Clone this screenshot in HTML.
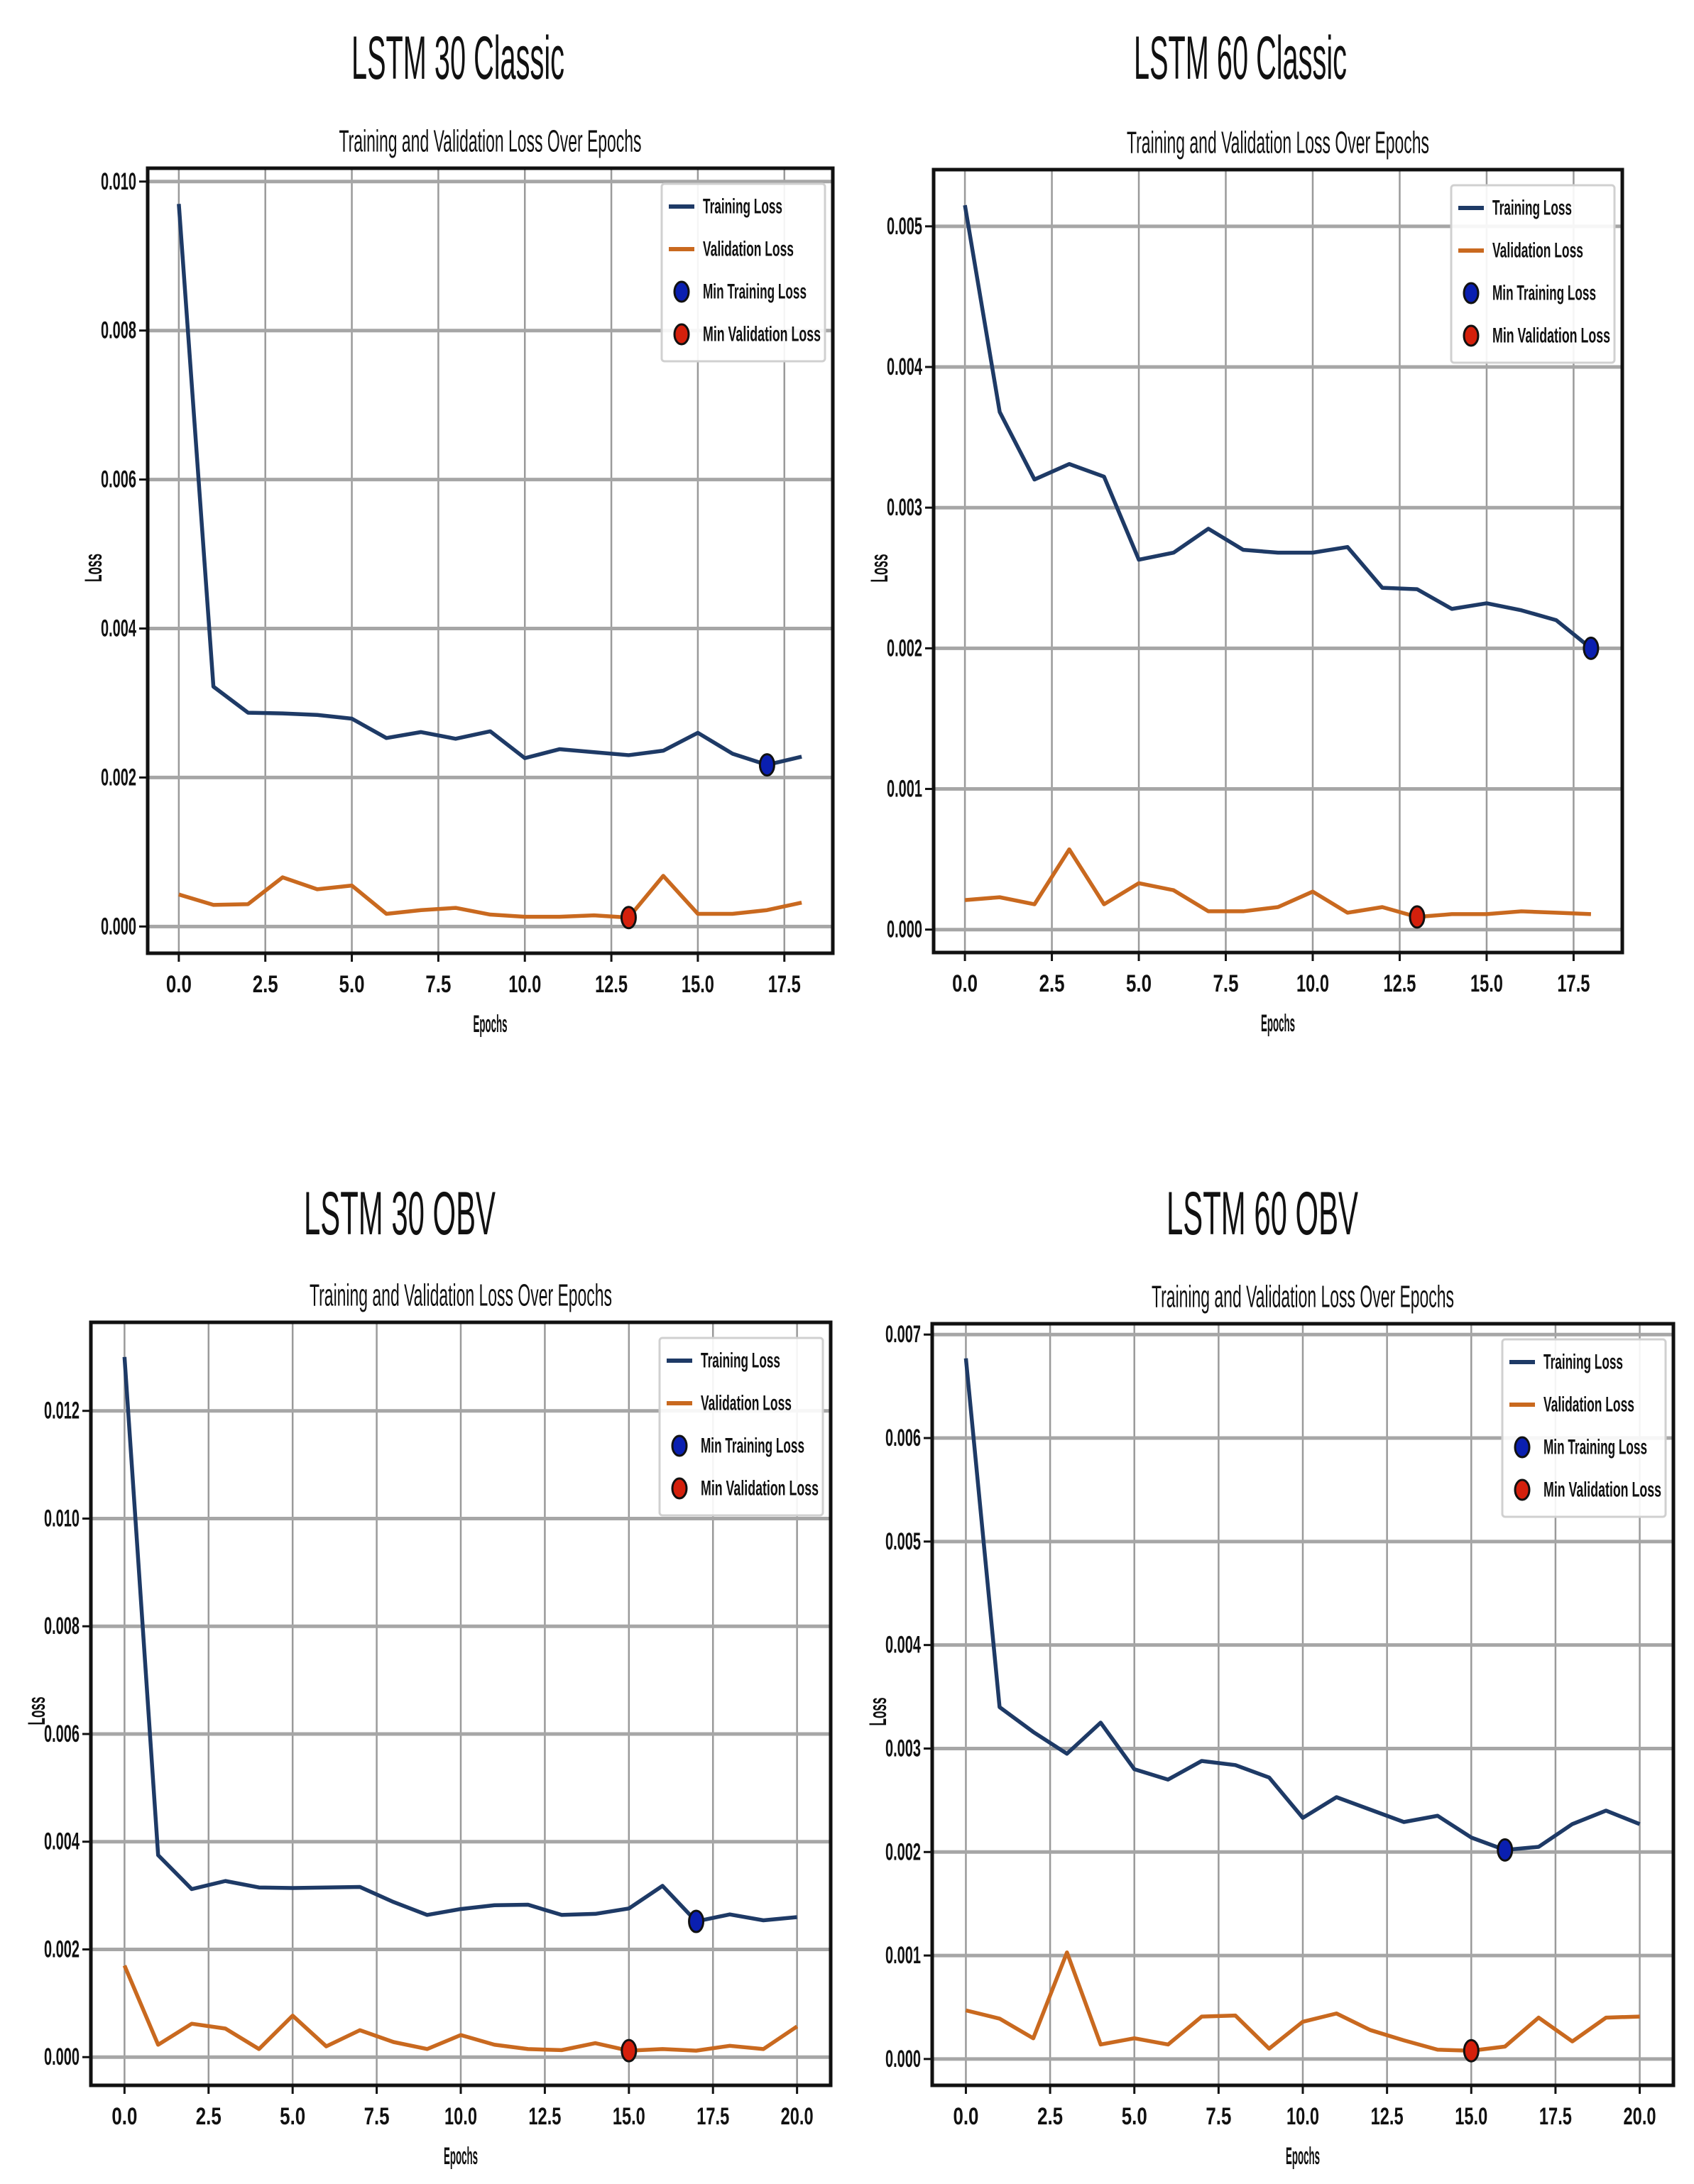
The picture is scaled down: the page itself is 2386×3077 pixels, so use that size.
<!DOCTYPE html>
<html><head><meta charset="utf-8">
<style>
html,body{margin:0;padding:0;background:#fff;}
svg{display:block;}
text{font-family:"Liberation Sans Narrow","Liberation Sans",sans-serif;fill:#111;}
</style></head>
<body>
<svg id="root" width="2386" height="3077" viewBox="0 0 2386 3077" xmlns="http://www.w3.org/2000/svg"></svg>
<script>
// ---- Chart data ----
const epochs30c = [0,1,2,3,4,5,6,7,8,9,10,11,12,13,14,15,16,17,18];
const train30c = [0.0097,0.00322,0.00287,0.00286,0.00284,0.00279,0.00253,0.00261,0.00252,0.00262,0.00226,0.00238,0.00234,0.00230,0.00236,0.00260,0.00232,0.00217,0.00228];
const val30c = [0.00043,0.00029,0.00030,0.00066,0.00050,0.00055,0.00017,0.00022,0.00025,0.00016,0.00013,0.00013,0.00015,0.00012,0.00068,0.00017,0.00017,0.00022,0.00032];
const yTicks30c = [0,0.002,0.004,0.006,0.008,0.010];

const epochs60c = [0,1,2,3,4,5,6,7,8,9,10,11,12,13,14,15,16,17,18];
const train60c = [0.00515,0.00368,0.00320,0.00331,0.00322,0.00263,0.00268,0.00285,0.00270,0.00268,0.00268,0.00272,0.00243,0.00242,0.00228,0.00232,0.00227,0.00220,0.00200];
const val60c = [0.00021,0.00023,0.00018,0.00057,0.00018,0.00033,0.00028,0.00013,0.00013,0.00016,0.00027,0.00012,0.00016,0.00009,0.00011,0.00011,0.00013,0.00012,0.00011];
const yTicks60c = [0,0.001,0.002,0.003,0.004,0.005];

const epochs30o = [0,1,2,3,4,5,6,7,8,9,10,11,12,13,14,15,16,17,18,19,20];
const train30o = [0.0130,0.00375,0.00312,0.00327,0.00315,0.00314,0.00315,0.00316,0.00288,0.00264,0.00275,0.00282,0.00283,0.00264,0.00266,0.00276,0.00318,0.00252,0.00265,0.00254,0.00260];
const val30o = [0.00170,0.00023,0.00062,0.00053,0.00015,0.00077,0.00020,0.00050,0.00028,0.00015,0.00041,0.00023,0.00015,0.00013,0.00026,0.00012,0.00015,0.00012,0.00021,0.00015,0.00057];
const yTicks30o = [0,0.002,0.004,0.006,0.008,0.010,0.012];

const epochs60o = [0,1,2,3,4,5,6,7,8,9,10,11,12,13,14,15,16,17,18,19,20];
const train60o = [0.00677,0.00340,0.00316,0.00295,0.00325,0.00280,0.00270,0.00288,0.00284,0.00272,0.00233,0.00253,0.00241,0.00229,0.00235,0.00214,0.00202,0.00205,0.00227,0.00240,0.00227];
const val60o = [0.00047,0.00039,0.00020,0.00103,0.00014,0.00020,0.00014,0.00041,0.00042,0.00010,0.00036,0.00044,0.00028,0.00018,0.00009,0.00008,0.00012,0.00040,0.00017,0.00040,0.00041];
const yTicks60o = [0,0.001,0.002,0.003,0.004,0.005,0.006,0.007];

const xTicks18 = ["0.0","2.5","5.0","7.5","10.0","12.5","15.0","17.5"];
const xTicks20 = ["0.0","2.5","5.0","7.5","10.0","12.5","15.0","17.5","20.0"];

const NS = "http://www.w3.org/2000/svg";
const root = document.getElementById('root');
function mk(tag, attrs, parent){
  const e = document.createElementNS(NS, tag);
  for (const k in attrs) e.setAttribute(k, attrs[k]);
  (parent||root).appendChild(e);
  return e;
}
function txt(parent, s, x, y, size, anchor, len, extra){
  const t = mk('text', Object.assign({x:x, y:y, 'font-size':size, 'text-anchor':anchor||'middle', 'dominant-baseline':'central'}, extra||{}), parent);
  if (len){ t.setAttribute('textLength', len); t.setAttribute('lengthAdjust','spacingAndGlyphs'); }
  t.textContent = s;
  return t;
}

function drawChart(key, title, box, epochs, train, val, yTicks, xTickLabels, titleLen, titleX, titleY){
  const g = mk('g', {});
  
  
  const [L,T,R,B] = box;
  const xmin0 = Math.min(...epochs), xmax0 = Math.max(...epochs);
  const xm = (xmax0-xmin0)*0.05;
  const all = train.concat(val);
  const ymin0 = Math.min(...all), ymax0 = Math.max(...all);
  const ym = (ymax0-ymin0)*0.05;
  const xlo = xmin0-xm, xhi = xmax0+xm, ylo = ymin0-ym, yhi = ymax0+ym;
  const X = v => L + (v-xlo)/(xhi-xlo)*(R-L);
  const Y = v => B - (v-ylo)/(yhi-ylo)*(B-T);
  const cx = (L+R)/2;

  const t1 = txt(g, title, titleX, titleY, 86, 'middle', titleLen);
  
  
  const t2 = txt(g, 'Training and Validation Loss Over Epochs', cx, T-38, 44, 'middle', 426);
  
  

  xTickLabels.forEach(lab => {
    const v = parseFloat(lab);
    const x = X(v);
    const gl = mk('line', {x1:x, x2:x, y1:T, y2:B, stroke:'#9a9a9a', 'stroke-width':2.5}, g);
    
    
    mk('line', {x1:x, x2:x, y1:B, y2:B+12, stroke:'#111', 'stroke-width':3}, g);
    const tl = txt(g, lab, x, B+44, 34, 'middle', lab.length>3 ? 46 : 36, {'font-weight':'bold'});
    
    
  });
  yTicks.forEach(v => {
    const y = Y(v);
    const gl = mk('line', {x1:L, x2:R, y1:y, y2:y, stroke:'#a6a6a6', 'stroke-width':5}, g);
    
    
    mk('line', {x1:L-12, x2:L, y1:y, y2:y, stroke:'#111', 'stroke-width':3}, g);
    const tl = txt(g, v.toFixed(3), L-16, y, 34, 'end', 50, {'font-weight':'bold'});
    
    
  });

  const xl = txt(g, 'Epochs', cx, B+100, 34, 'middle', 48, {'font-weight':'bold'});
  
  
  const yl = txt(g, 'Loss', 0, 0, 34, 'middle', 40, {'font-weight':'bold', transform:`translate(${L-76},${(T+B)/2+10}) rotate(-90)`});
  
  

  const tp = mk('polyline', {points: epochs.map((e,i)=>X(e)+','+Y(train[i])).join(' '), fill:'none', stroke:'#1e3a66', 'stroke-width':5.5, 'stroke-linejoin':'round'}, g);
  
  
  const vp = mk('polyline', {points: epochs.map((e,i)=>X(e)+','+Y(val[i])).join(' '), fill:'none', stroke:'#c9691f', 'stroke-width':5.5, 'stroke-linejoin':'round'}, g);
  
  

  let ti = 0; train.forEach((v,i)=>{ if (v < train[ti]) ti = i; });
  let vi = 0; val.forEach((v,i)=>{ if (v < val[vi]) vi = i; });
  const m1 = mk('ellipse', {cx:X(epochs[ti]), cy:Y(train[ti]), rx:10, ry:15, fill:'#0a1fb0', stroke:'#111', 'stroke-width':3}, g);
  
  
  const m2 = mk('ellipse', {cx:X(epochs[vi]), cy:Y(val[vi]), rx:10, ry:15, fill:'#d4200c', stroke:'#111', 'stroke-width':3}, g);
  
  

  const bd = mk('rect', {x:L, y:T, width:R-L, height:B-T, fill:'none', stroke:'#111', 'stroke-width':5}, g);
  
  

  const lw = 230, lh = 250, lx = R-11-lw, ly = T+22;
  const lg = mk('g', {}, g);
  
  
  mk('rect', {x:lx, y:ly, width:lw, height:lh, fill:'#fff', 'fill-opacity':0.9, stroke:'#d0d0d0', 'stroke-width':3, rx:4}, lg);
  const entries = [['Training Loss','line','#1e3a66',112],['Validation Loss','line','#c9691f',128],['Min Training Loss','dot','#0a1fb0',146],['Min Validation Loss','dot','#d4200c',166]];
  entries.forEach((en,k)=>{
    const yy = ly + 32 + k*60;
    const eg = mk('g', {}, lg);
    
    
    if (en[1]==='line') mk('line', {x1:lx+10, x2:lx+46, y1:yy, y2:yy, stroke:en[2], 'stroke-width':6}, eg);
    else mk('ellipse', {cx:lx+28, cy:yy, rx:10, ry:14, fill:en[2], stroke:'#111', 'stroke-width':3}, eg);
    txt(eg, en[0], lx+58, yy, 30, 'start', en[3], {'font-weight':'bold'});
  });
}

drawChart('lstm-30-classic', 'LSTM 30 Classic', [208,237,1173,1343], epochs30c, train30c, val30c, yTicks30c, xTicks18, 300, 645, 82);
drawChart('lstm-60-classic', 'LSTM 60 Classic', [1315,239,2285,1342], epochs60c, train60c, val60c, yTicks60c, xTicks18, 300, 1747, 82);
drawChart('lstm-30-obv', 'LSTM 30 OBV', [128,1863,1170,2938], epochs30o, train30o, val30o, yTicks30o, xTicks20, 270, 563, 1710);
drawChart('lstm-60-obv', 'LSTM 60 OBV', [1313,1865,2357,2938], epochs60o, train60o, val60o, yTicks60o, xTicks20, 270, 1778, 1710);
</script>
</body></html>
